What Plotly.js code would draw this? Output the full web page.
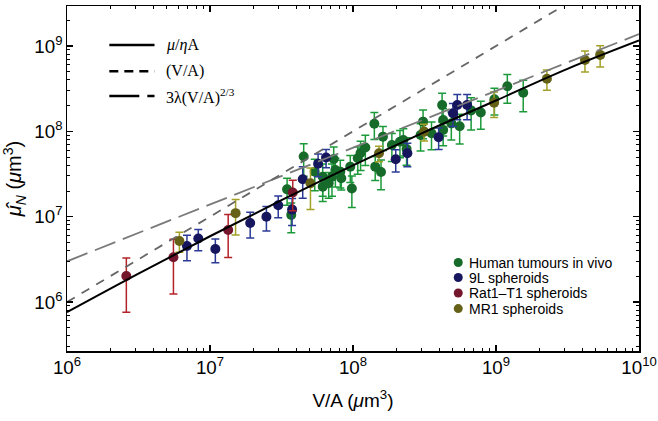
<!DOCTYPE html>
<html>
<head>
<meta charset="utf-8">
<script src="https://cdn.plot.ly/plotly-3.0.1.min.js"></script>
<style>
  html, body { margin: 0; padding: 0; background: #fff; }
  #grafico { width: 658px; height: 421px; }
</style>
</head>
<body>
<div id="grafico"></div>
<script>
// Human tumours in vivo
const humanX = [3.46e7, 3.70e7, 4.52e7, 5.40e7, 6.14e7, 6.14e7, 6.76e7, 7.13e7, 7.33e7, 7.53e7, 8.15e7, 8.28e7, 9.57e7, 9.82e7, 1.08e8, 1.13e8, 1.22e8, 1.41e8, 1.43e8, 1.57e8, 1.62e8, 1.87e8, 2.13e8, 2.25e8, 2.37e8, 2.97e8, 3.09e8, 3.54e8, 4.20e8, 4.27e8, 4.27e8, 4.87e8, 5.57e8, 6.70e8, 7.83e8, 9.75e8, 1.20e9, 1.55e9];
const humanY = [2.09e7, 1.05e7, 5.08e7, 3.37e7, 2.94e7, 2.25e7, 2.47e7, 2.94e7, 4.75e7, 3.53e7, 3.37e7, 2.82e7, 3.86e7, 2.14e7, 4.84e7, 5.58e7, 6.48e7, 1.23e8, 3.86e7, 3.34e7, 8.67e7, 6.93e7, 7.57e7, 7.93e7, 6.22e7, 9.07e7, 1.30e8, 9.50e7, 2.04e8, 1.36e8, 1.04e8, 1.24e8, 1.15e8, 1.76e8, 1.66e8, 2.38e8, 3.38e8, 2.84e8];
const humanErr = [7.3e6, 4.0e6, 2.1e7, 1.35e7, 1.2e7, 7.4e6, 8.2e6, 1.2e7, 1.8e7, 1.3e7, 1.2e7, 7.6e6, 1.35e7, 8.6e6, 1.7e7, 2.1e7, 2.5e7, 4.3e7, 1.2e7, 1.27e7, 2.7e7, 2.5e7, 2.65e7, 2.8e7, 2.2e7, 3.2e7, 4.8e7, 3.4e7, 7.5e7, 4.8e7, 3.6e7, 4.5e7, 4.4e7, 7.2e7, 6.0e7, 8.3e7, 1.25e8, 1.14e8];

// 9L spheroids
const nineX = [6.90e6, 8.28e6, 1.09e7, 1.91e7, 2.48e7, 3.00e7, 3.75e7, 4.45e7, 5.70e7, 6.48e7, 1.99e8, 2.40e8, 3.97e8, 5.00e8, 5.36e8, 6.28e8];
const nineY = [4.54e6, 5.55e6, 4.18e6, 8.44e6, 1.0e7, 1.36e7, 1.21e7, 2.74e7, 4.18e7, 4.94e7, 4.71e7, 5.54e7, 8.53e7, 1.63e8, 2.04e8, 2.04e8];
const nineErr = [1.5e6, 1.55e6, 1.3e6, 2.8e6, 3.2e6, 3.9e6, 4.2e6, 1.1e7, 1.25e7, 1.2e7, 1.37e7, 1.7e7, 2.4e7, 4.9e7, 6.7e7, 6.7e7];

// Rat1-T1 spheroids
const ratX = [2.60e6, 5.55e6, 1.34e7, 3.79e7];
const ratY = [2.02e6, 3.34e6, 6.98e6, 1.92e7];
const ratErr = [1.26e6, 2.1e6, 3.65e6, 7.5e6];

// MR1 spheroids
const mr1X = [6.11e6, 1.51e7, 5.04e7, 1.52e8, 3.14e8, 9.70e8, 2.27e9, 4.19e9, 5.35e9];
const mr1Y = [5.19e6, 1.10e7, 2.47e7, 5.54e7, 9.93e7, 2.17e8, 4.14e8, 6.87e8, 7.87e8];
const mr1Err = [1.37e6, 4.9e6, 1.26e7, 1.15e7, 2.2e7, 7.2e7, 1.1e8, 1.9e8, 2.2e8];

// curvas del modelo
const modelX = [1e6, 3.16e6, 1e7, 3.16e7, 1e8, 3.16e8, 1e9, 3.16e9, 1e10];
const modelY = [7.6e5, 2.15e6, 5.9e6, 1.56e7, 4.0e7, 9.8e7, 2.3e8, 5.4e8, 1.16e9];
const volX = [1e6, 1e10];
const volY = [1e6, 1e10];
const surfX = [1e6, 1e10];
const surfY = [3.0e6, 1.38e9];

const lineLabels = ['<i>μ</i>/<i>η</i>A', '(V/A)', '3λ(V/A)<sup>2/3</sup>'];
const groupLabels = ['Human tumours in vivo', '9L spheroids', 'Rat1\u2013T1 spheroids', 'MR1 spheroids'];
const groupColors = ['#166a2a', '#16165e', '#74162c', '#656218'];
const barColors = ['#1c9a3a', '#2b3a96', '#b3232a', '#a3a127'];

function grupo(x, y, err, i) {
    return {
        x: x, y: y, type: 'scatter', mode: 'markers', name: groupLabels[i],
        marker: { color: groupColors[i], size: 10 },
        error_y: { type: 'data', array: err, visible: true, color: barColors[i], thickness: 1.5, width: 4 }
    };
}

const data = [
    grupo(humanX, humanY, humanErr, 0),
    grupo(nineX, nineY, nineErr, 1),
    grupo(ratX, ratY, ratErr, 2),
    grupo(mr1X, mr1Y, mr1Err, 3),
    { x: surfX, y: surfY, type: 'scatter', mode: 'lines', name: lineLabels[2], line: { color: '#7a7a7a', width: 1.8, dash: '22px,8px' } },
    { x: volX, y: volY, type: 'scatter', mode: 'lines', name: lineLabels[1], line: { color: '#666666', width: 1.8, dash: '9px,8px' } },
    { x: modelX, y: modelY, type: 'scatter', mode: 'lines', name: lineLabels[0], line: { color: '#000000', width: 2, shape: 'spline' } }
];

// leyendas dibujadas a mano (posiciones en coordenadas de papel)
const shapes = [];
const annotations = [];
const lineDash = ['solid', '9px,6px', '30px,8px'];
const lineRowsY = [0.887, 0.811, 0.739];
lineLabels.forEach((lab, i) => {
    shapes.push({ type: 'line', xref: 'paper', yref: 'paper', x0: 0.074, x1: 0.153, y0: lineRowsY[i], y1: lineRowsY[i],
        line: { color: '#000', width: 2.5, dash: lineDash[i] } });
    annotations.push({ xref: 'paper', yref: 'paper', x: 0.169, y: lineRowsY[i], xanchor: 'left', yanchor: 'middle',
        showarrow: false, text: lab, font: { family: 'Liberation Serif, Times New Roman, serif', size: 16, color: '#000' } });
});
const groupRowsY = [0.2565, 0.213, 0.168, 0.123];
groupLabels.forEach((lab, i) => {
    shapes.push({ type: 'circle', xref: 'paper', yref: 'paper', xsizemode: 'pixel', ysizemode: 'pixel',
        xanchor: 0.684, yanchor: groupRowsY[i], x0: -4.5, x1: 4.5, y0: -4.5, y1: 4.5,
        fillcolor: groupColors[i], line: { width: 0 } });
    annotations.push({ xref: 'paper', yref: 'paper', x: 0.700, y: groupRowsY[i], xanchor: 'left', yanchor: 'middle',
        showarrow: false, text: lab, font: { family: 'Liberation Sans, Arial, sans-serif', size: 14, color: '#000' } });
});

const ejeComun = {
    type: 'log', dtick: 1, exponentformat: 'power', showexponent: 'all',
    showline: true, linecolor: '#000', linewidth: 1.5, mirror: 'allticks',
    ticks: 'inside', ticklen: 6, tickcolor: '#000', tickwidth: 1.2,
    showgrid: false, zeroline: false, ticklabeloverflow: 'allow',
    minor: { ticks: 'inside', ticklen: 3, tickcolor: '#000', tickwidth: 1, dtick: 'D1', showgrid: false },
    tickfont: { family: 'Liberation Sans, Arial, sans-serif', size: 15, color: '#000' }
};

const layout = {
    width: 658, height: 421,
    margin: { l: 67, r: 19, t: 6, b: 70 },
    paper_bgcolor: '#fff', plot_bgcolor: '#fff',
    showlegend: false,
    xaxis: Object.assign({}, ejeComun, {
        range: [5.99999, 10.00001],
        title: { text: 'V/A (<i>μ</i>m<sup>3</sup>)', font: { family: 'Liberation Sans, Arial, sans-serif', size: 19, color: '#000' }, standoff: 16 }
    }),
    yaxis: Object.assign({}, ejeComun, {
        range: [5.426, 9.469],
        title: { text: '<i>μ̂</i><sub><i>N</i></sub> (<i>μ</i>m<sup>3</sup>)', font: { family: 'Liberation Sans, Arial, sans-serif', size: 20, color: '#000' }, standoff: 10 }
    }),
    shapes: shapes,
    annotations: annotations
};

Plotly.newPlot('grafico', data, layout, { displayModeBar: false, staticPlot: true });
</script>
</body>
</html>
